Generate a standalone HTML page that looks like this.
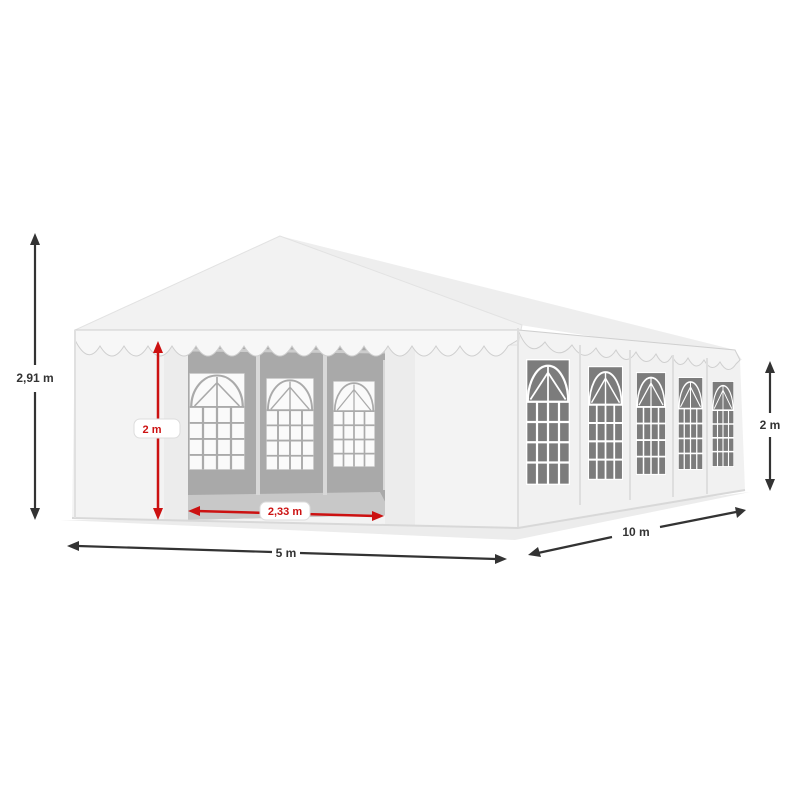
<!DOCTYPE html>
<html><head><meta charset="utf-8"><style>
html,body{margin:0;padding:0;background:#fff;width:800px;height:800px;overflow:hidden}
</style></head><body>
<svg width="800" height="800" viewBox="0 0 800 800" xmlns="http://www.w3.org/2000/svg" font-family="Liberation Sans, sans-serif">
<defs>
<symbol id="sw" viewBox="0 0 100 280" preserveAspectRatio="none">
<rect x="0" y="0" width="100" height="280" fill="#7c7c7c"/>
<path d="M4,95 A46,80 0 0 1 96,95" fill="none" stroke="#fff" stroke-width="5"/>
<path d="M50,15 L50,95 M10,90 L50,30 L90,90" fill="none" stroke="#fff" stroke-width="4"/>
<path d="M0,95 H100 M0,140 H100 M0,185 H100 M0,230 H100 M25,95 V280 M50,95 V280 M75,95 V280" stroke="#fff" stroke-width="5"/>
<rect x="0" y="0" width="100" height="280" fill="none" stroke="#fff" stroke-width="6"/>
</symbol>
<symbol id="dw" viewBox="0 0 100 200" preserveAspectRatio="none">
<rect x="0" y="0" width="100" height="200" fill="#fafafa"/>
<path d="M4,70 A46,65 0 0 1 96,70" fill="none" stroke="#aaa" stroke-width="4"/>
<path d="M50,8 L50,70 M10,68 L50,20 L90,68" fill="none" stroke="#aaa" stroke-width="3"/>
<path d="M0,70 H100 M0,103 H100 M0,136 H100 M0,169 H100 M25,70 V200 M50,70 V200 M75,70 V200" stroke="#aaa" stroke-width="4"/>
<rect x="0" y="0" width="100" height="200" fill="none" stroke="#bbb" stroke-width="3"/>
</symbol>
</defs>
<polygon points="60,520 515,540 750,492 520,520" fill="#ececec"/>
<polygon points="518,330 740,360 745,490 518,528" fill="#f1f1f1"/>
<polygon points="75,335 518,330 518,528 72,518" fill="#f3f3f3"/>
<polygon points="280,236 735,350 742,360 520,325" fill="#eeeeee"/>
<polygon points="280,236 75,330 80,345 518,345 522,325" fill="#f2f2f2" stroke="#e2e2e2"/>
<polygon points="178,345 395,345 395,515 178,520" fill="#a9a9a9"/>
<polygon points="188,495 380,492 392,515 178,520" fill="#c8c8c8"/>
<use href="#dw" x="189" y="373" width="56" height="97"/>
<use href="#dw" x="266" y="378" width="48" height="92"/>
<use href="#dw" x="333" y="381" width="42" height="86"/>
<rect x="256" y="350" width="4" height="145" fill="#d8d8d8"/>
<rect x="323" y="352" width="4" height="143" fill="#d8d8d8"/>
<rect x="383" y="360" width="3" height="130" fill="#d8d8d8"/>
<path d="M190,350 L385,352" stroke="#ccc" stroke-width="3"/>
<rect x="164" y="345" width="24" height="175" fill="#ececec"/>
<rect x="385" y="345" width="30" height="180" fill="#ececec"/>
<path d="M75,340 Q88,366 100,346 Q112,366 124,346 Q136,366 148,346 Q160,366 172,346 Q184,366 196,346 Q208,366 220,346 Q232,366 244,346 Q256,366 268,346 Q280,366 292,346 Q304,366 316,346 Q328,366 340,346 Q352,366 364,346 Q376,366 388,346 Q400,366 412,346 Q424,366 436,346 Q448,366 460,346 Q472,366 484,346 Q496,366 508,346 L518,340 L518,330 L75,330 Z" fill="#f7f7f7" stroke="#cfcfcf"/>
<use href="#sw" x="526" y="359" width="44" height="126"/>
<use href="#sw" x="588" y="366" width="35" height="114"/>
<use href="#sw" x="636" y="372" width="30" height="103"/>
<use href="#sw" x="678" y="377" width="25" height="93"/>
<use href="#sw" x="712" y="381" width="22" height="86"/>
<path d="M518,330 Q530,360 545,342 Q558,362 572,345 Q584,364 596,348 Q606,366 616,350 Q626,368 636,352 Q646,370 656,354 Q664,370 672,356 Q680,372 688,358 Q696,373 704,360 Q712,374 720,362 Q728,376 736,364 L740,360 L735,350 Z" fill="#f3f3f3" stroke="#cfcfcf"/>
<path d="M518,328 V528 M580,345 V505 M630,350 V500 M673,355 V497 M707,358 V494" stroke="#dedede" stroke-width="2"/>
<path d="M72,518 L518,528 L745,490" fill="none" stroke="#d8d8d8" stroke-width="2"/>
<path d="M75,330 V518" stroke="#e0e0e0" stroke-width="2"/>
<g stroke="#333" stroke-width="2.2" fill="#333">
<line x1="35" y1="242" x2="35" y2="365"/><line x1="35" y1="392" x2="35" y2="512"/>
<polygon points="35,233 30,245 40,245" stroke="none"/><polygon points="35,520 30,508 40,508" stroke="none"/>
<line x1="78" y1="546" x2="272" y2="552"/><line x1="300" y1="553" x2="496" y2="559"/>
<polygon points="67,546 79,541 79,551" stroke="none"/><polygon points="507,559 495,554 495,564" stroke="none"/>
<line x1="538" y1="553" x2="612" y2="537"/><line x1="660" y1="527" x2="736" y2="512"/>
<polygon points="528,555 538,547 541,557" stroke="none"/><polygon points="746,510 735,507 737,518" stroke="none"/>
<line x1="770" y1="370" x2="770" y2="413"/><line x1="770" y1="437" x2="770" y2="482"/>
<polygon points="770,361 765,373 775,373" stroke="none"/><polygon points="770,491 765,479 775,479" stroke="none"/>
</g>
<g font-size="12" font-weight="bold" fill="#333" text-anchor="middle">
<text x="35" y="382">2,91 m</text>
<text x="286" y="557">5 m</text>
<text x="636" y="536">10 m</text>
<text x="770" y="429">2 m</text>
</g>
<g stroke="#cc1111" stroke-width="2.5" fill="#cc1111">
<line x1="158" y1="350" x2="158" y2="512"/>
<polygon points="158,341 153,353 163,353" stroke="none"/><polygon points="158,520 153,508 163,508" stroke="none"/>
<line x1="196" y1="511" x2="376" y2="516"/>
<polygon points="188,511 200,506 200,516" stroke="none"/><polygon points="384,516 372,511 372,521" stroke="none"/>
</g>
<rect x="134" y="419" width="46" height="19" rx="6" fill="#fff" stroke="#ddd"/>
<rect x="260" y="502" width="50" height="18" rx="6" fill="#fff" stroke="#ddd"/>
<g font-size="11" font-weight="bold" fill="#cc1111" text-anchor="middle">
<text x="152" y="433">2 m</text>
<text x="285" y="515">2,33 m</text>
</g>
</svg>
</body></html>
